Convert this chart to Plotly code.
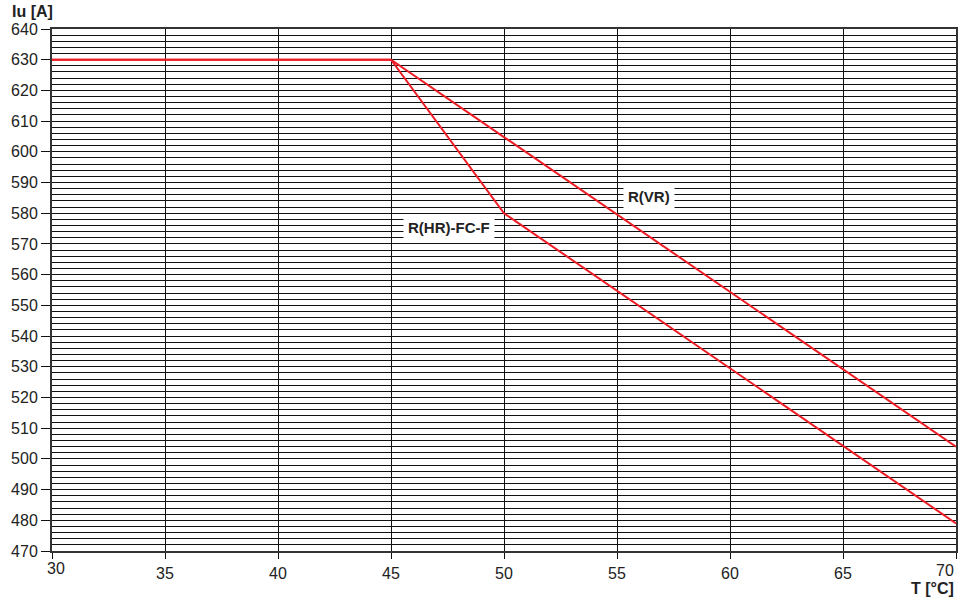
import plotly.graph_objects as go

# Data
t_vr = [30, 45, 70]
iu_vr = [630, 630, 504]
t_hr = [30, 45, 50, 70]
iu_hr = [630, 630, 580, 479]
x_ticks = [30, 35, 40, 45, 50, 55, 60, 65, 70]
y_ticks = list(range(470, 641, 10))

FONT = "Liberation Sans, Arial, Helvetica, sans-serif"
TXT = "#222222"

fig = go.Figure()
fig.add_trace(go.Scatter(x=t_vr, y=iu_vr, mode="lines",
                         line=dict(color="#ee1c25", width=2), hoverinfo="skip"))
fig.add_trace(go.Scatter(x=t_hr, y=iu_hr, mode="lines",
                         line=dict(color="#ee1c25", width=2), hoverinfo="skip"))

ann = []
for v in x_ticks:
    if v == x_ticks[0]:
        xa, ys, xs = "center", -17, 4
    elif v == x_ticks[-1]:
        xa, ys, xs = "right", -19, 0
    else:
        xa, ys, xs = "center", -22, 0
    ann.append(dict(x=v, y=470, xref="x", yref="y", text=str(v), showarrow=False,
                    xanchor=xa, yanchor="middle", yshift=ys, xshift=xs,
                    font=dict(family=FONT, size=16, color=TXT)))

ann.append(dict(x=56.4, y=585.6, xref="x", yref="y", text="<b>R(VR)</b>", showarrow=False,
                bgcolor="white", font=dict(family=FONT, size=15, color=TXT), borderpad=4))
ann.append(dict(x=47.57, y=575.5, xref="x", yref="y", text="<b>R(HR)-FC-F</b>", showarrow=False,
                bgcolor="white", font=dict(family=FONT, size=15, color=TXT), borderpad=4))
ann.append(dict(x=-0.046, y=1.0, xref="paper", yref="paper", text="<b>Iu [A]</b>", showarrow=False,
                xanchor="left", yanchor="bottom", yshift=7,
                font=dict(family=FONT, size=16, color=TXT)))
ann.append(dict(x=1.0, y=0, xref="paper", yref="paper", text="<b>T [°C]</b>", showarrow=False,
                xanchor="right", yanchor="middle", yshift=-37,
                font=dict(family=FONT, size=16, color=TXT)))

fig.update_layout(
    width=962, height=601,
    margin=dict(l=52, r=6, t=29, b=50, autoexpand=False),
    paper_bgcolor="white", plot_bgcolor="white",
    showlegend=False,
    annotations=ann,
    xaxis=dict(range=[30, 70], tickvals=x_ticks, showticklabels=False,
               showgrid=True, gridcolor="#111111", gridwidth=1,
               ticks="outside", ticklen=6, tickcolor="#111111",
               showline=True, linecolor="#333333", linewidth=2, mirror=True,
               zeroline=False),
    yaxis=dict(range=[470, 640], tickvals=y_ticks,
               showgrid=True, gridcolor="#111111", gridwidth=1,
               minor=dict(dtick=2, tick0=470, showgrid=True, gridcolor="#111111", gridwidth=1),
               ticks="outside", ticklen=9, tickcolor="#111111",
               tickfont=dict(family=FONT, size=16, color=TXT),
               showline=True, linecolor="#333333", linewidth=2, mirror=True,
               zeroline=False),
)

fig.write_html("out.html", config={"displayModeBar": False},
               post_script="document.body.style.margin='0';document.body.style.overflow='hidden';")
